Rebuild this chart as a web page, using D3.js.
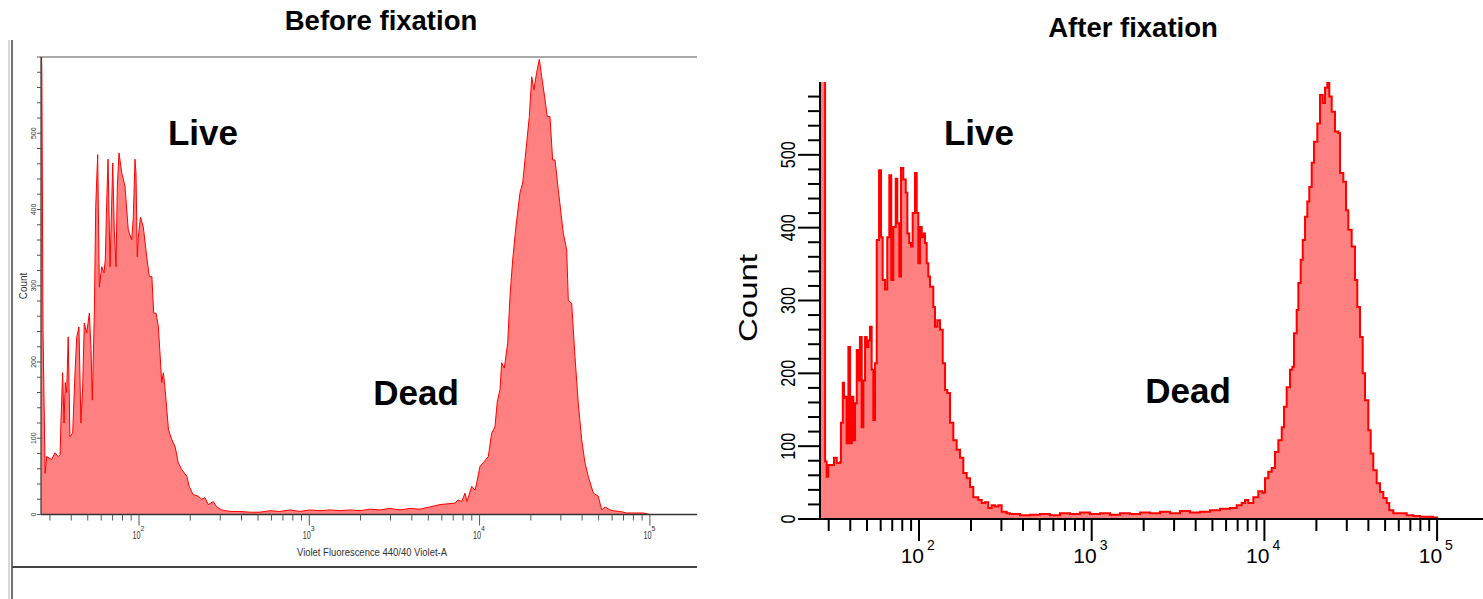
<!DOCTYPE html>
<html><head><meta charset="utf-8">
<script src="https://cdn.jsdelivr.net/npm/d3@7"></script>
<style>html,body{margin:0;padding:0;background:#fff;} svg{display:block;font-family:"Liberation Sans",Arial,sans-serif;}</style>
</head><body><svg id="chart" width="1483" height="599"></svg>
<script>
// ---------- data ----------
const leftIntensity = [26.6,26.9,27.3,28.1,28.7,30.7,32.1,33.5,34.4,34.8,35.6,36.3,36.9,37.6,38.4,39.3,40.8,42.1,43.1,44.4,45.6,46.7,47.7,49.3,51.1,52.3,53.2,54.7,55.7,57.2,58.5,60.4,62.3,63.4,64.6,65.8,67.6,70.1,71.6,73.3,74.6,76.3,79.2,82.8,86.5,90.6,92.6,94.7,96.0,97.7,99.1,102,106,111,115,119,122,126,130,136,139,142,149,156,163,170,178,191,197,208,223,233,244,255,273,286,306,342,392,449,513,588,673,771,881,1010,1156,1324,1515,1734,1985,2271,2601,2978,3409,3901,4467,5115,5853,7175,7470,7850,8210,8440,8990,9400,9610,10050,10510,11250,11780,12310,12700,13180,13480,13970,14620,15080,15640,16350,17270,17910,18910,19590,20230,20850,21630,22420,23170,24220,24980,25890,26850,27720,28980,31010,32460,33180,34740,36310,37970,39760,41560,43470,46550,49770,52100,54480,58330,60990,66720,73050,83600,91420,100000,188000];
const leftCount = [650,574,246,54,76,72,81,76,78,120,186,120,173,160,233,102,107,186,233,246,120,167,251,238,264,216,150,268,404,472,298,325,317,334,409,466,325,461,373,325,430,474,448,430,373,360,390,466,448,338,364,390,377,338,312,312,264,264,246,173,186,167,111,98,89,68,59,50,37,26,24,20,22,13,17,10,6,4,4,3,3,5,4,6,4,6,5,6,5,6,5,7,6,8,6,8,7,10,13,15,19,17,28,17,37,32,41,63,68,76,107,115,148,164,199,192,225,286,334,378,422,435,488,522,574,557,580,597,574,544,522,522,465,465,426,369,347,281,277,207,146,98,68,50,28,24,6,10,6,5,4,2,2,2,0,0];

const rightIntensity = [26.7,28.6,29.2,29.8,31.2,32.2,33.4,34.9,35.3,36.2,36.8,37.4,38.1,39.0,39.9,40.8,41.7,42.6,43.6,44.5,45.5,46.6,47.6,48.7,49.8,50.9,52.0,53.2,54.4,55.6,56.9,58.7,60.3,61.6,63.6,65.5,67.3,69.1,71.0,73.3,74.9,76.9,78.7,81.1,83.8,85.6,87.8,89.9,91.9,94.8,97.0,99.1,101.3,103.7,105.9,108.3,110.8,113.2,115.8,121.0,123.8,127.6,132.3,137.2,141.5,145.8,151.2,158.0,165.3,172.7,180.5,188.9,197.4,206.3,220.5,230.7,241.1,251.9,263.6,275.5,287.9,301.2,321.9,336.5,384.6,439.5,502,573,655,749,855,978,1117,1277,1459,1667,1905,2177,2488,2840,3245,3709,4238,4842,5533,6323,6913,7389,7722,8070,8627,9220,9725,10080,10530,11020,11520,12040,12600,12990,13460,14070,14510,14840,15380,15720,16230,16670,17190,17720,18200,18790,19380,20250,20990,21760,22440,23130,23760,24530,25630,26790,27410,28640,29690,30610,32020,33460,34500,35770,37090,38240,39960,41260,42720,44700,46710,48810,51080,52870,55770,61000,66680,72820,79610,87020,94690,100000,200000];
const rightCount = [650,79,58,74,74,84,77,78,132,187,166,168,104,236,104,168,108,159,232,190,250,126,190,250,236,245,264,205,136,214,383,479,387,328,315,387,472,328,401,467,406,333,482,466,448,392,379,374,420,475,420,351,401,387,392,379,351,333,319,291,264,273,260,214,177,173,132,108,95,84,63,56,44,30,26,22,23,15,19,17,19,10,8,7,5,6,7,5,8,7,9,7,8,6,8,7,9,8,10,8,11,9,10,12,14,15,19,22,26,22,30,38,36,56,65,70,92,108,126,154,181,205,209,255,287,324,356,383,415,436,456,489,518,543,582,571,592,600,580,559,532,530,475,463,424,397,374,328,291,250,200,163,122,90,67,49,37,29,22,12,8,8,5,4,3,3,2,0,0];

const decadeExponents = [2, 3, 4, 5];
const countTickLabels = [0, 100, 200, 300, 400, 500];
const panelTitles = ["Before fixation", "After fixation"];
const populationLabels = ["Live", "Dead"];
const leftAxisTitle = "Violet Fluorescence 440/40 Violet-A";
const yAxisTitle = "Count";

// ---------- drawing ----------
const svg = d3.select("#chart");
const FILL = "#ff8080", LINE = "#ff0000";

function minorTicks(lo, hi) {
  const out = [];
  for (let d = 1; d <= 5; d++) for (let m = 1; m <= 9; m++) {
    const v = m * Math.pow(10, d);
    if (v >= lo && v <= hi) out.push(v);
  }
  return out;
}
const countMinor = d3.range(0, 601, 20);

// ===== Left panel =====
(function () {
  const x0 = 41, x1 = 697, yTop = 57, yBase = 514.5;
  const x = d3.scaleLog().domain([Math.pow(10, 2 - 98 / 170.3), Math.pow(10, 2 + (697 - 139) / 170.3)]).range([x0, x1]);
  const y = d3.scaleLinear().domain([0, 600]).range([yBase, yTop]);
  const g = svg.append("g");

  // outer frame
  g.append("line").attr("x1", 9).attr("x2", 9).attr("y1", 40).attr("y2", 599).attr("stroke", "#b0b0b0").attr("stroke-width", 1);
  g.append("line").attr("x1", 12).attr("x2", 12).attr("y1", 40).attr("y2", 599).attr("stroke", "#444").attr("stroke-width", 1.5);
  g.append("line").attr("x1", 12).attr("x2", 697).attr("y1", 567).attr("y2", 567).attr("stroke", "#444").attr("stroke-width", 2);

  svg.append("clipPath").attr("id", "clipL").append("rect").attr("x", x0).attr("y", yTop).attr("width", x1 - x0).attr("height", yBase - yTop);
  const data = leftIntensity.map((v, i) => [v, leftCount[i]]);
  const area = d3.area().x(d => x(d[0])).y0(y(0)).y1(d => y(d[1]));
  const line = d3.line().x(d => x(d[0])).y(d => y(d[1]));
  g.append("path").datum(data).attr("clip-path", "url(#clipL)").attr("d", area).attr("fill", FILL);
  g.append("path").datum(data).attr("clip-path", "url(#clipL)").attr("d", line).attr("fill", "none").attr("stroke", LINE).attr("stroke-width", 1);

  // frame and axes
  g.append("line").attr("x1", x0).attr("x2", x1).attr("y1", yTop).attr("y2", yTop).attr("stroke", "#555").attr("stroke-width", 1.2);
  g.append("line").attr("x1", x0).attr("x2", x0).attr("y1", yTop).attr("y2", yBase).attr("stroke", "#333").attr("stroke-width", 1.2);
  g.append("line").attr("x1", x0).attr("x2", x1).attr("y1", yBase).attr("y2", yBase).attr("stroke", "#333").attr("stroke-width", 1.5);

  // x ticks
  const majors = decadeExponents.map(e => Math.pow(10, e));
  minorTicks(30, 100000).forEach(v => {
    const isMajor = majors.includes(v);
    g.append("line").attr("x1", x(v)).attr("x2", x(v)).attr("y1", yBase).attr("y2", yBase + (isMajor ? 11 : 6)).attr("stroke", "#555").attr("stroke-width", 1);
  });
  decadeExponents.forEach(e => {
    const px = x(Math.pow(10, e));
    g.append("text").attr("x", px + 1.5).attr("y", 539).attr("text-anchor", "end").attr("font-size", 10).attr("fill", "#333")
      .attr("textLength", 8).attr("lengthAdjust", "spacingAndGlyphs").text("10");
    g.append("text").attr("x", px + 1.5).attr("y", 531).attr("font-size", 7).attr("fill", "#333").text(e);
  });
  g.append("text").attr("x", 372).attr("y", 556).attr("text-anchor", "middle").attr("font-size", 10).attr("fill", "#333")
    .attr("textLength", 150).attr("lengthAdjust", "spacingAndGlyphs").text(leftAxisTitle);

  // y ticks
  countMinor.forEach(v => {
    g.append("line").attr("x1", x0 - 4).attr("x2", x0).attr("y1", y(v)).attr("y2", y(v)).attr("stroke", "#555").attr("stroke-width", 1);
  });
  countTickLabels.forEach(v => {
    g.append("text").attr("transform", `translate(36,${y(v)}) rotate(-90)`).attr("text-anchor", "middle")
      .attr("font-size", 7).attr("fill", "#333").text(v);
  });
  g.append("text").attr("transform", `translate(27,286) rotate(-90)`).attr("text-anchor", "middle")
    .attr("font-size", 10).attr("fill", "#333").text(yAxisTitle);

  // titles and labels
  g.append("text").attr("x", 381).attr("y", 30).attr("text-anchor", "middle").attr("font-size", 27.5).attr("font-weight", "bold").text(panelTitles[0]);
  g.append("text").attr("x", 203).attr("y", 145).attr("text-anchor", "middle").attr("font-size", 35).attr("font-weight", "bold").text(populationLabels[0]);
  g.append("text").attr("x", 416).attr("y", 405).attr("text-anchor", "middle").attr("font-size", 35).attr("font-weight", "bold").text(populationLabels[1]);
})();

// ===== Right panel =====
(function () {
  const x0 = 820, x1 = 1483, yTop = 82, yBase = 519;
  const x = d3.scaleLog().domain([Math.pow(10, 2 - 99 / 172.7), Math.pow(10, 2 + (1483 - 919) / 172.7)]).range([x0, x1]);
  const y = d3.scaleLinear().domain([0, 600]).range([yBase, yTop]);
  const g = svg.append("g");

  svg.append("clipPath").attr("id", "clipR").append("rect").attr("x", x0).attr("y", yTop).attr("width", x1 - x0).attr("height", yBase - yTop);
  const data = rightIntensity.map((v, i) => [v, rightCount[i]]);
  const area = d3.area().curve(d3.curveStepAfter).x(d => x(d[0])).y0(y(0)).y1(d => y(d[1]));
  const line = d3.line().curve(d3.curveStepAfter).x(d => x(d[0])).y(d => y(d[1]));
  g.append("path").datum(data).attr("clip-path", "url(#clipR)").attr("d", area).attr("fill", FILL);
  g.append("path").datum(data).attr("clip-path", "url(#clipR)").attr("d", line).attr("fill", "none").attr("stroke", LINE).attr("stroke-width", 2);

  // axes
  g.append("line").attr("x1", x0).attr("x2", x0).attr("y1", yTop).attr("y2", yBase).attr("stroke", "#000").attr("stroke-width", 2);
  g.append("line").attr("x1", x0).attr("x2", x1).attr("y1", yBase).attr("y2", yBase).attr("stroke", "#000").attr("stroke-width", 2);

  const majors = decadeExponents.map(e => Math.pow(10, e));
  minorTicks(30, 100000).forEach(v => {
    const isMajor = majors.includes(v);
    g.append("line").attr("x1", x(v)).attr("x2", x(v)).attr("y1", yBase).attr("y2", yBase + (isMajor ? 22 : 12)).attr("stroke", "#000").attr("stroke-width", 2);
  });
  decadeExponents.forEach(e => {
    const px = x(Math.pow(10, e));
    g.append("text").attr("x", px + 5).attr("y", 563).attr("text-anchor", "end").attr("font-size", 21).attr("fill", "#000").text("10");
    g.append("text").attr("x", px + 8).attr("y", 550).attr("font-size", 14).attr("fill", "#000").text(e);
  });

  countMinor.filter(v => v <= 580).forEach(v => {
    const isMajor = v % 100 === 0;
    g.append("line").attr("x1", x0 - (isMajor ? 22 : 12)).attr("x2", x0).attr("y1", y(v)).attr("y2", y(v)).attr("stroke", "#000").attr("stroke-width", 2);
  });
  countTickLabels.forEach(v => {
    const s = String(v);
    g.append("text").attr("transform", `translate(795,${y(v)}) rotate(-90)`).attr("text-anchor", "middle")
      .attr("font-size", 21).attr("fill", "#000")
      .attr("textLength", s.length * 9).attr("lengthAdjust", "spacingAndGlyphs").text(s);
  });
  g.append("text").attr("transform", `translate(757,298) rotate(-90)`).attr("text-anchor", "middle")
    .attr("font-size", 25).attr("fill", "#000").attr("textLength", 88).attr("lengthAdjust", "spacingAndGlyphs").text(yAxisTitle);

  g.append("text").attr("x", 1133).attr("y", 37).attr("text-anchor", "middle").attr("font-size", 27.5).attr("font-weight", "bold").text(panelTitles[1]);
  g.append("text").attr("x", 979).attr("y", 145).attr("text-anchor", "middle").attr("font-size", 35).attr("font-weight", "bold").text(populationLabels[0]);
  g.append("text").attr("x", 1188).attr("y", 403).attr("text-anchor", "middle").attr("font-size", 35).attr("font-weight", "bold").text(populationLabels[1]);
})();
</script></body></html>
